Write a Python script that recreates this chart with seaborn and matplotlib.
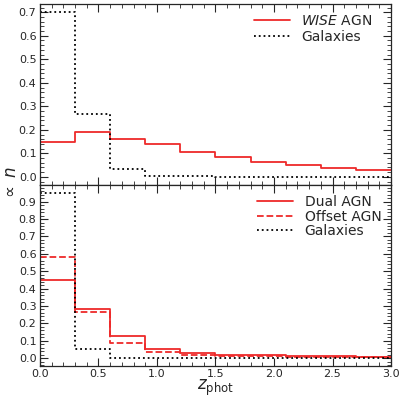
import numpy as np
import pandas as pd
import matplotlib
matplotlib.use("Agg")
import matplotlib.pyplot as plt
import seaborn as sns
from matplotlib.ticker import MultipleLocator

edges = [0.0, 0.3, 0.6, 0.9, 1.2, 1.5, 1.8, 2.1, 2.4, 2.7, 3.0]
centers = [0.15, 0.45, 0.75, 1.05, 1.35, 1.65, 1.95, 2.25, 2.55, 2.85]

wise_agn = [0.148, 0.192, 0.160, 0.138, 0.106, 0.085, 0.063, 0.051, 0.037, 0.031]
gal_top = [0.700, 0.268, 0.032, 0.004, 0.002, 0.001, 0.001, 0.001, 0.001, 0.001]
dual_agn = [0.452, 0.283, 0.126, 0.055, 0.028, 0.020, 0.015, 0.011, 0.009, 0.007]
offset_agn = [0.583, 0.267, 0.085, 0.035, 0.017, 0.012, 0.010, 0.008, 0.006, 0.005]
gal_bot = [0.950, 0.055, 0.002, 0.001, 0.001, 0.001, 0.001, 0.001, 0.001, 0.001]

sns.set_style("ticks")
plt.rcParams['font.family'] = ['DejaVu Sans']

fig = plt.figure(figsize=(3.99, 3.99), dpi=100)
ax1 = fig.add_axes([0.100, 0.536, 0.880, 0.454])
ax2 = fig.add_axes([0.100, 0.083, 0.880, 0.453])

def hist(ax, vals, color, ls, label):
    df = pd.DataFrame({"z": centers, "w": vals})
    sns.histplot(data=df, x="z", weights="w", bins=list(edges), element="step", fill=False,
                 color=color, linestyle=ls, linewidth=1.3, ax=ax, label=label)

red = "#ee2a2a"
hist(ax1, wise_agn, red, "-", r"$\it{WISE}$ AGN")
hist(ax1, gal_top, "black", ":", "Galaxies")
hist(ax2, dual_agn, red, "-", "Dual AGN")
hist(ax2, offset_agn, red, "--", "Offset AGN")
hist(ax2, gal_bot, "black", ":", "Galaxies")

ax1.set_ylim(-0.035, 0.735)
ax2.set_ylim(-0.045, 0.995)
for ax in (ax1, ax2):
    ax.set_xlim(0, 3.0)
    ax.set_ylabel("")
    ax.xaxis.set_major_locator(MultipleLocator(0.5))
    ax.xaxis.set_minor_locator(MultipleLocator(0.1))
    ax.yaxis.set_major_locator(MultipleLocator(0.1))
    ax.yaxis.set_minor_locator(MultipleLocator(0.02))
    ax.tick_params(which="both", direction="in", top=True, right=True, labelsize=8, pad=2.5)
    ax.tick_params(which="major", length=6, width=0.8)
    ax.tick_params(which="minor", length=3, width=0.6)
    for s in ax.spines.values():
        s.set_linewidth(0.9)
ax1.legend(loc="upper right", bbox_to_anchor=(0.975, 1.0), frameon=False, fontsize=10,
           handlelength=2.6, borderaxespad=0.3, labelspacing=0.15)
ax2.legend(loc="upper right", frameon=False, fontsize=10, handlelength=2.6,
           borderaxespad=0.3, labelspacing=0.05)
ax1.tick_params(labelbottom=False)
ax2.set_xlabel(r"$z_{\rm phot}$", fontsize=12, labelpad=-1)
fig.text(0.028, 0.541, r"$\propto\ n$", rotation=90, fontsize=12, va="center", ha="center")

fig.savefig("out.png", dpi=100)
